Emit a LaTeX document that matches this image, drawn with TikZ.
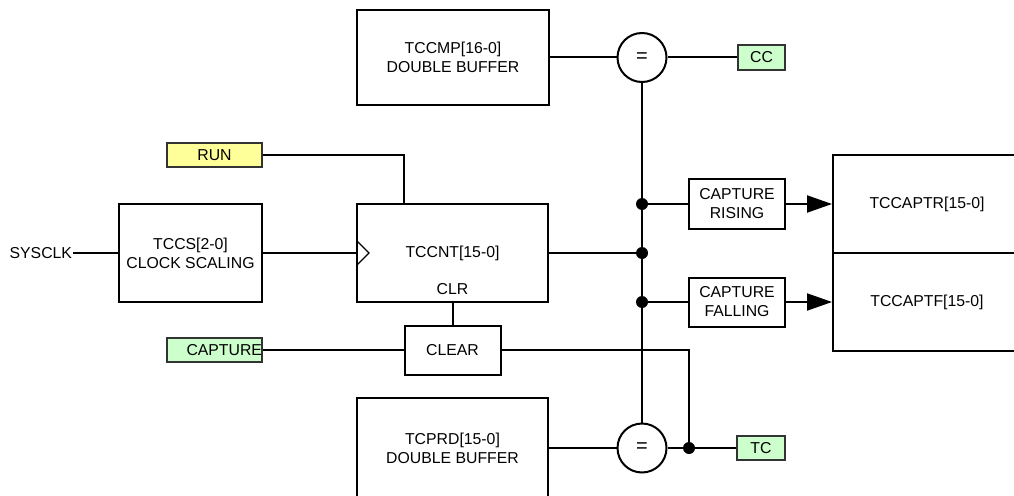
\documentclass[tikz,border=0pt]{standalone}
\usepackage{fontspec}
\setmainfont{Liberation Sans}
\usetikzlibrary{arrows.meta}
\definecolor{runyellow}{HTML}{FFFF99}
\definecolor{sigreen}{HTML}{CCFFCC}
\begin{document}
\begin{tikzpicture}[x=1pt,y=-1pt,
  line width=2pt,
  every node/.style={font=\fontsize{15.8}{19}\selectfont, inner sep=0pt},
  blk/.style={draw, rectangle, align=center},
  tag/.style={draw, rectangle, line width=1.4pt, draw=black!80, minimum width=95pt, minimum height=24pt},
  cmp/.style={draw, circle, minimum size=49pt, font=\fontsize{20}{22}\selectfont},
  dotnode/.style={circle, fill=black, minimum size=12pt},
  bigarrow/.style={-{Triangle[length=25pt,width=17pt]}}
]
\useasboundingbox (0,0) rectangle (1014,495);
\clip (0,0) rectangle (1014,495);

% blocks
\node[blk, minimum width=192pt, minimum height=94pt] (tccmp) at (453,57.5) {TCCMP[16-0]\\DOUBLE BUFFER};
\node[blk, minimum width=191pt, minimum height=100pt] (tcprd) at (452.5,448) {TCPRD[15-0]\\DOUBLE BUFFER};
\node[blk, minimum width=143pt, minimum height=98pt] (tccs) at (190.5,253) {TCCS[2-0]\\CLOCK SCALING};
\node[blk, minimum width=191pt, minimum height=98pt] (tccnt) at (452.5,253) {TCCNT[15-0]};
\node (clr) at (452.5,289) {CLR};
\node[blk, minimum width=96pt, minimum height=49pt] (clear) at (452.5,350) {CLEAR};
\node[blk, minimum width=96pt, minimum height=50pt] (caprise) at (737,204) {CAPTURE\\RISING};
\node[blk, minimum width=96pt, minimum height=49pt] (capfall) at (737,302) {CAPTURE\\FALLING};
\node[blk, minimum width=188pt, minimum height=98pt] (tccaptr) at (927,204) {TCCAPTR[15-0]};
\node[blk, minimum width=188pt, minimum height=98pt] (tccaptf) at (927,302) {TCCAPTF[15-0]};

% comparators
\node[cmp] (eq1) at (642,57.5) {=};
\node[cmp] (eq2) at (642,448) {=};

% tags
\node[tag, fill=runyellow] (run) at (214.5,155) {RUN};
\node[tag, fill=sigreen] (capture) at (214.5,350) {};
\node[anchor=east] (capturetxt) at (263,350) {CAPTURE};
\node[tag, fill=sigreen, minimum width=47pt, minimum height=25pt] (cc) at (761.5,57.5) {CC};
\node[tag, fill=sigreen, minimum width=48pt, minimum height=24pt] (tc) at (761,448) {TC};
\node[anchor=east] (sysclk) at (73,253) {SYSCLK};

% clock triangle
\coordinate (ck1) at (357,241);
\coordinate (ck2) at (369,253);
\coordinate (ck3) at (357,265);
\draw[line width=1.4pt] (ck1) -- (ck2) -- (ck3);

% junction dots
\node[dotnode] (d1) at (642,204) {};
\node[dotnode] (d2) at (642,253) {};
\node[dotnode] (d3) at (642,302) {};
\node[dotnode] (d4) at (689,448) {};

% connectors
\draw (tccmp.east) -- (eq1.west);
\draw (eq1.east) -- (cc.west);
\draw (tcprd.east) -- (eq2.west);
\draw (eq2.east) -- (tc.west);
\draw (eq1.south) -- (eq2.north);
\draw (sysclk.east) -- (tccs.west);
\draw (tccs.east) -- (tccnt.west);
\draw (run.east) -| (404,0 |- tccnt.north);
\draw (tccnt.east) -- (d2.center);
\draw (d1.center) -- (caprise.west);
\draw (d3.center) -- (capfall.west);
\draw[bigarrow] (caprise.east) -- (caprise.east -| tccaptr.west);
\draw[bigarrow] (capfall.east) -- (capfall.east -| tccaptf.west);
\draw (tccnt.south) -- (clear.north);
\draw (capture.east) -- (clear.west);
\draw (clear.east) -| (d4.center);
\end{tikzpicture}
\end{document}
